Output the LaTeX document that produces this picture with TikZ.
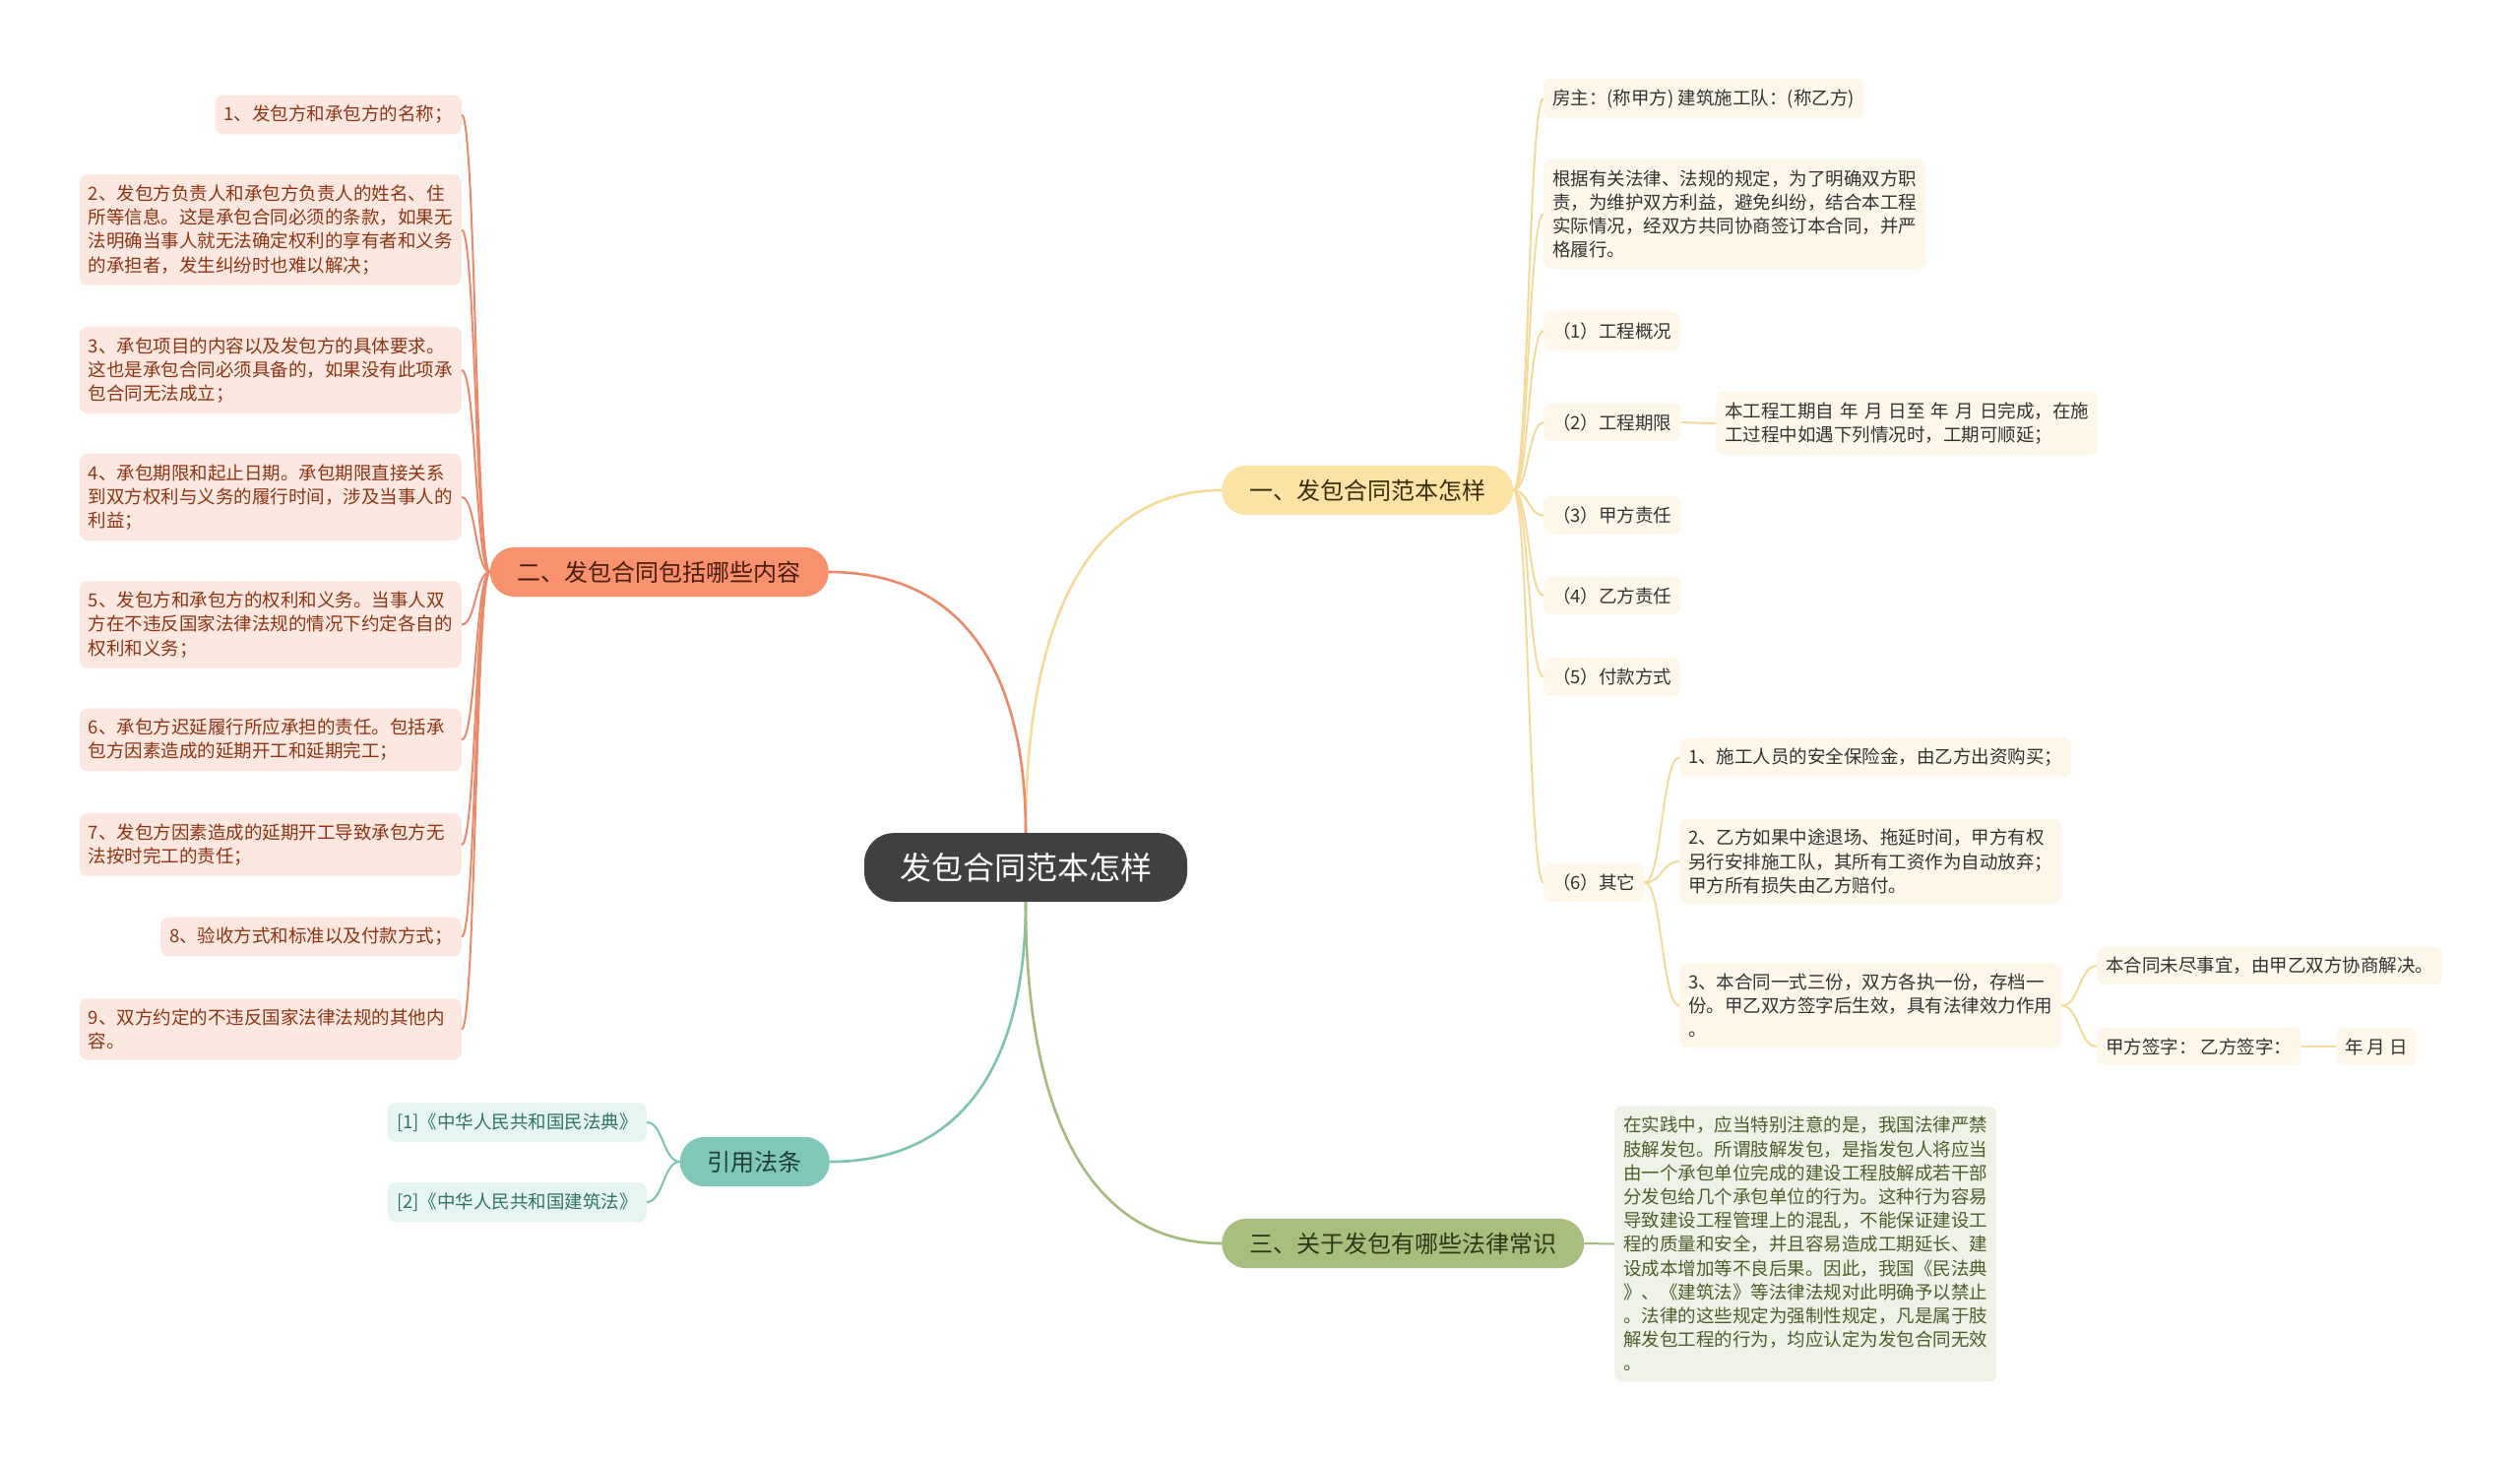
\documentclass[tikz,border=0pt]{standalone}
\usepackage{fontspec}
\newfontfamily\cjk{Noto Sans CJK SC}
\usetikzlibrary{calc}
\definecolor{rootgrey}{HTML}{404040}
\definecolor{goldfill}{HTML}{FCE2A4}
\definecolor{goldline}{HTML}{F6DA9A}
\definecolor{goldtext}{HTML}{3B2E0E}
\definecolor{creamfill}{HTML}{FEF8EA}
\definecolor{creamtext}{HTML}{333333}
\definecolor{salmonfill}{HTML}{F9916F}
\definecolor{salmonline}{HTML}{EC896A}
\definecolor{salmontext}{HTML}{4A1D0E}
\definecolor{pinkfill}{HTML}{FDE8E1}
\definecolor{pinktext}{HTML}{8C3414}
\definecolor{tealfill}{HTML}{80C7B8}
\definecolor{tealline}{HTML}{7CC3B3}
\definecolor{tealtext}{HTML}{1E3D37}
\definecolor{mintfill}{HTML}{E7F5F2}
\definecolor{minttext}{HTML}{2E7366}
\definecolor{olivefill}{HTML}{A7BE7F}
\definecolor{oliveline}{HTML}{A5BA7E}
\definecolor{olivetext}{HTML}{2C3816}
\definecolor{sagefill}{HTML}{EEF2E7}
\definecolor{sagetext}{HTML}{4E5E2C}
\tikzset{
  rootbox/.style={rectangle, rounded corners=30pt, fill=rootgrey, text=white,
    font=\cjk\fontsize{32}{38}\selectfont, inner xsep=36pt, inner ysep=20pt},
  branch/.style={rectangle, rounded corners=25pt, inner xsep=28pt, inner ysep=14pt,
    font=\cjk\fontsize{24}{30}\selectfont},
  branchY/.style={branch, fill=goldfill, text=goldtext},
  branchS/.style={branch, fill=salmonfill, text=salmontext},
  branchT/.style={branch, fill=tealfill, text=tealtext},
  branchO/.style={branch, fill=olivefill, text=olivetext},
  leaf/.style={rectangle, rounded corners=8pt, inner xsep=9pt, inner ysep=10.5pt,
    align=left, font=\cjk\fontsize{18.5}{24.2}\selectfont},
  wide/.style={text width=370pt},
  leafY/.style={leaf, fill=creamfill, text=creamtext},
  leafS/.style={leaf, fill=pinkfill, text=pinktext},
  leafT/.style={leaf, fill=mintfill, text=minttext},
  leafO/.style={leaf, fill=sagefill, text=sagetext},
  mainlink/.style={line width=2.6pt},
  link/.style={line width=2pt},
  rootcurve/.style={to path={.. controls ($(\tikztostart)!0.65!(\tikztostart|-\tikztotarget)$)
    and ($(\tikztotarget)!0.65!(\tikztostart|-\tikztotarget)$) .. (\tikztotarget)}},
  leafcurve/.style={to path={.. controls ($(\tikztostart)!0.5!(\tikztotarget|-\tikztostart)$)
    and ($(\tikztotarget)!0.5!(\tikztostart|-\tikztotarget)$) .. (\tikztotarget)}},
}
\begin{document}
\begin{tikzpicture}[x=1pt, y=-1pt]
\fill[white] (0,0) rectangle (2560,1483);
\useasboundingbox (0,0) rectangle (2560,1483);

% centre and main branches
\node[rootbox] (root) at (1042,881) {发包合同范本怎样};
\node[branchY, anchor=west] (b1) at (1241,498) {一、发包合同范本怎样};
\node[branchS, anchor=east] (b2) at (842,581) {二、发包合同包括哪些内容};
\node[branchT, anchor=east] (b4) at (843,1180) {引用法条};
\node[branchO, anchor=west] (b3) at (1241,1263) {三、关于发包有哪些法律常识};

% branch one
\node[leafY, anchor=west] (y0) at (1568,100) {房主：(称甲方) 建筑施工队：(称乙方)};
\node[leafY, wide, anchor=west] (y1) at (1568,217.5) {根据有关法律、法规的规定，为了明确双方职\\责，为维护双方利益，避免纠纷，结合本工程\\实际情况，经双方共同协商签订本合同，并严\\格履行。};
\node[leafY, anchor=west] (p1) at (1568,336) {（1）工程概况};
\node[leafY, anchor=west] (p2) at (1568,429) {（2）工程期限};
\node[leafY, wide, anchor=west] (p2c) at (1743,430) {本工程工期自 年 月 日至 年 月 日完成，在施\\工过程中如遇下列情况时，工期可顺延；};
\node[leafY, anchor=west] (p3) at (1568,523.5) {（3）甲方责任};
\node[leafY, anchor=west] (p4) at (1568,605) {（4）乙方责任};
\node[leafY, anchor=west] (p5) at (1568,687.5) {（5）付款方式};
\node[leafY, anchor=west] (p6) at (1568,896.5) {（6）其它};
\node[leafY, anchor=west] (q1) at (1706,769.5) {1、施工人员的安全保险金，由乙方出资购买；};
\node[leafY, wide, anchor=west] (q2) at (1706,875) {2、乙方如果中途退场、拖延时间，甲方有权\\另行安排施工队，其所有工资作为自动放弃；\\甲方所有损失由乙方赔付。};
\node[leafY, wide, anchor=west] (q3) at (1706,1021.5) {3、本合同一式三份，双方各执一份，存档一\\份。甲乙双方签字后生效，具有法律效力作用\\。};
\node[leafY, anchor=west] (r1) at (2130,981) {本合同未尽事宜，由甲乙双方协商解决。};
\node[leafY, anchor=west] (r2) at (2130,1063) {甲方签字： 乙方签字：};
\node[leafY, anchor=west] (r3) at (2373,1063) {年 月 日};

% branch two
\node[leafS, anchor=east] (s1) at (469,116.5) {1、发包方和承包方的名称；};
\node[leafS, wide, anchor=east] (s2) at (469,233.5) {2、发包方负责人和承包方负责人的姓名、住\\所等信息。这是承包合同必须的条款，如果无\\法明确当事人就无法确定权利的享有者和义务\\的承担者，发生纠纷时也难以解决；};
\node[leafS, wide, anchor=east] (s3) at (469,376) {3、承包项目的内容以及发包方的具体要求。\\这也是承包合同必须具备的，如果没有此项承\\包合同无法成立；};
\node[leafS, wide, anchor=east] (s4) at (469,505) {4、承包期限和起止日期。承包期限直接关系\\到双方权利与义务的履行时间，涉及当事人的\\利益；};
\node[leafS, wide, anchor=east] (s5) at (469,634.5) {5、发包方和承包方的权利和义务。当事人双\\方在不违反国家法律法规的情况下约定各自的\\权利和义务；};
\node[leafS, wide, anchor=east] (s6) at (469,751.5) {6、承包方迟延履行所应承担的责任。包括承\\包方因素造成的延期开工和延期完工；};
\node[leafS, wide, anchor=east] (s7) at (469,858) {7、发包方因素造成的延期开工导致承包方无\\法按时完工的责任；};
\node[leafS, anchor=east] (s8) at (469,951.5) {8、验收方式和标准以及付款方式；};
\node[leafS, wide, anchor=east] (s9) at (469,1045.5) {9、双方约定的不违反国家法律法规的其他内\\容。};

% cited laws
\node[leafT, anchor=east] (t1) at (657,1140) {[1]《中华人民共和国民法典》};
\node[leafT, anchor=east] (t2) at (657,1221) {[2]《中华人民共和国建筑法》};

% branch three
\node[leafO, wide, anchor=west] (g1) at (1640,1263.5) {在实践中，应当特别注意的是，我国法律严禁\\肢解发包。所谓肢解发包，是指发包人将应当\\由一个承包单位完成的建设工程肢解成若干部\\分发包给几个承包单位的行为。这种行为容易\\导致建设工程管理上的混乱，不能保证建设工\\程的质量和安全，并且容易造成工期延长、建\\设成本增加等不良后果。因此，我国《民法典\\》、《建筑法》等法律法规对此明确予以禁止\\。法律的这些规定为强制性规定，凡是属于肢\\解发包工程的行为，均应认定为发包合同无效\\。};

% connectors
\draw[mainlink, goldline] (root.north) to[rootcurve] (b1.west);
\draw[mainlink, salmonline] (root.north) to[rootcurve] (b2.east);
\draw[mainlink, tealline] (root.south) to[rootcurve] (b4.east);
\draw[mainlink, oliveline] (root.south) to[rootcurve] (b3.west);
\foreach \n in {y0,y1,p1,p2,p3,p4,p5,p6}
  \draw[link, goldline] (b1.east) to[leafcurve] (\n.west);
\draw[link, goldline] (p2.east) -- (p2c.west);
\foreach \n in {q1,q2,q3}
  \draw[link, goldline] (p6.east) to[leafcurve] (\n.west);
\foreach \n in {r1,r2}
  \draw[link, goldline] (q3.east) to[leafcurve] (\n.west);
\draw[link, goldline] (r2.east) -- (r3.west);
\foreach \n in {s1,s2,s3,s4,s5,s6,s7,s8,s9}
  \draw[link, salmonline] (b2.west) to[leafcurve] (\n.east);
\foreach \n in {t1,t2}
  \draw[link, tealline] (b4.west) to[leafcurve] (\n.east);
\draw[link, oliveline] (b3.east) -- (g1.west);
\end{tikzpicture}
\end{document}
